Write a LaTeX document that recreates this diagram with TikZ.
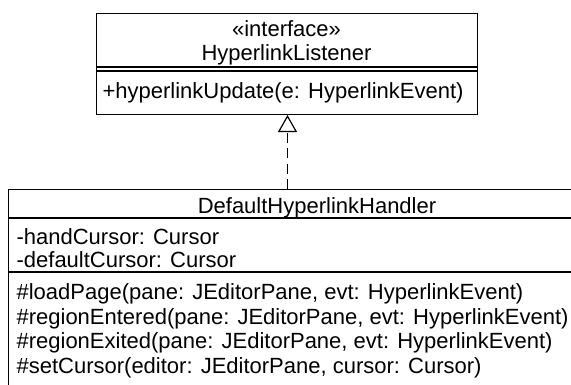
\documentclass[tikz,border=0pt]{standalone}
\usepackage{fontspec}
\setmainfont{Liberation Sans}
\usetikzlibrary{arrows.meta}
\begin{document}
\begin{tikzpicture}[x=0.75pt,y=-0.75pt,line width=0.9pt,
  umlbox/.style={draw,rectangle,inner sep=0pt,anchor=north west},
  txt/.style={inner sep=0pt,font=\fontsize{16.5}{18}\selectfont},
  realize/.style={dashed,dash pattern=on 7.5pt off 4pt,-{Triangle[open,width=14.25pt,length=12.75pt,line width=0.9pt]}}]
\useasboundingbox (0,0) rectangle (571,385);
% interface box
\node[umlbox,minimum width=285.75pt,minimum height=75.75pt] (iface) at (96,13) {};
\draw (iface.west |- 0,67) -- (iface.east |- 0,67);
\draw (iface.west |- 0,71) -- (iface.east |- 0,71);
\node[txt,anchor=base] (st) at (286.5,37) {«interface»};
\node[txt,anchor=base] (iname) at (286.5,61) {HyperlinkListener};
\node[txt,anchor=base west] (im1) at (102,98.5) {+hyperlinkUpdate(e: HyperlinkEvent)};
% class box (extends beyond the picture)
\node[umlbox,minimum width=462pt,minimum height=187.5pt] (cls) at (8,189) {};
\draw (cls.west |- 0,218) -- (cls.east |- 0,218);
\draw (cls.west |- 0,272) -- (cls.east |- 0,272);
\node[txt,anchor=base] (cname) at (317,213) {DefaultHyperlinkHandler};
\node[txt,anchor=base west] (a1) at (16,244.5) {-handCursor: Cursor};
\node[txt,anchor=base west] (a2) at (16,267.5) {-defaultCursor: Cursor};
\node[txt,anchor=base west] (m1) at (16,299.5) {\#loadPage(pane: JEditorPane, evt: HyperlinkEvent)};
\node[txt,anchor=base west] (m2) at (16,324) {\#regionEntered(pane: JEditorPane, evt: HyperlinkEvent)};
\node[txt,anchor=base west] (m3) at (16,348.5) {\#regionExited(pane: JEditorPane, evt: HyperlinkEvent)};
\node[txt,anchor=base west] (m4) at (16,373) {\#setCursor(editor: JEditorPane, cursor: Cursor)};
% realization
\coordinate (src) at (287.5,189);
\coordinate (dst) at (287.5,115);
\draw[realize] (src) -- (dst);
\end{tikzpicture}
\end{document}
